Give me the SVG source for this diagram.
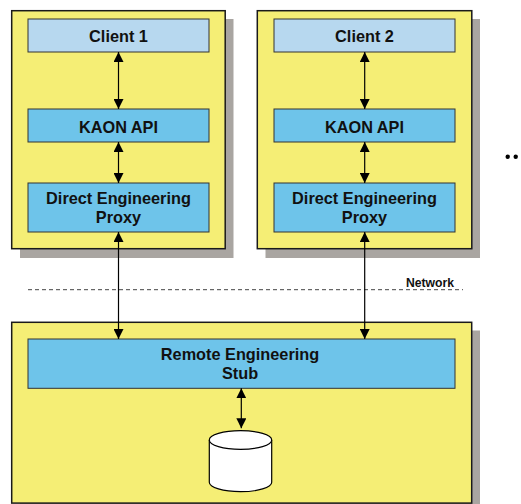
<svg xmlns="http://www.w3.org/2000/svg" width="521" height="504" viewBox="0 0 521 504">
<defs>
<style>
.shadow{fill:#a9a5a1}
.outer{fill:#f5ee75;stroke:#1a1a1a;stroke-width:1.5}
.client{fill:#b7d8ef;stroke:#333;stroke-width:1}
.comp{fill:#6ec4ea;stroke:#333;stroke-width:1}
.lbl{font-family:"Liberation Sans",Arial,sans-serif;font-weight:bold;font-size:16.3px;fill:#111;text-anchor:middle}
.conn{stroke:#000;stroke-width:1.2;fill:none}
</style>
<marker id="ah" viewBox="0 0 10 10" refX="10" refY="5" markerWidth="10" markerHeight="10" markerUnits="userSpaceOnUse" orient="auto-start-reverse">
<path d="M0,0 L10,5 L0,10 z" fill="#000"/>
</marker>
</defs>
<rect width="521" height="504" fill="#fff"/>
<g id="host1">
<rect class="shadow" x="20" y="19" width="213.5" height="239"/>
<rect class="outer" x="11.7" y="10.7" width="213.5" height="238"/>
</g>
<g id="host2">
<rect class="shadow" x="265.5" y="19" width="214.5" height="239"/>
<rect class="outer" x="257.3" y="10.7" width="214.5" height="238"/>
</g>
<g id="server">
<rect class="shadow" x="20" y="330.5" width="460" height="180"/>
<rect class="outer" x="11.7" y="322.3" width="460" height="180.8"/>
</g>
<g id="client1"><rect class="client" x="28" y="19" width="181" height="33"/><text class="lbl" x="118.5" y="42">Client 1</text></g>
<g id="kaon1"><rect class="comp" x="28" y="109" width="181" height="33"/><text class="lbl" x="118.5" y="133">KAON API</text></g>
<g id="proxy1"><rect class="comp" x="28" y="183" width="181" height="49"/><text class="lbl" x="118.5" y="204">Direct Engineering</text><text class="lbl" x="118.5" y="222.5">Proxy</text></g>
<g id="client2"><rect class="client" x="274" y="19" width="181" height="33"/><text class="lbl" x="364.5" y="42">Client 2</text></g>
<g id="kaon2"><rect class="comp" x="274" y="109" width="181" height="33"/><text class="lbl" x="364.5" y="133">KAON API</text></g>
<g id="proxy2"><rect class="comp" x="274" y="183" width="181" height="49"/><text class="lbl" x="364.5" y="204">Direct Engineering</text><text class="lbl" x="364.5" y="222.5">Proxy</text></g>
<g id="stub"><rect class="comp" x="28" y="339" width="427" height="49.3"/><text class="lbl" x="240" y="360">Remote Engineering</text><text class="lbl" x="240" y="378.5">Stub</text></g>
<g id="db">
<path d="M209.3,440 V482.3 A31.2,9.4 0 0 0 271.7,482.3 V440" fill="#fff" stroke="#000" stroke-width="1.2"/>
<ellipse cx="240.5" cy="440" rx="31.2" ry="9.3" fill="#fff" stroke="#000" stroke-width="1.2"/>
</g>
<g id="network">
<line x1="28" y1="289.7" x2="463" y2="289.7" stroke="#444" stroke-width="1" stroke-dasharray="4,3"/>
<text x="430" y="286.5" font-family="Liberation Sans,Arial,sans-serif" font-weight="bold" font-size="12.2px" fill="#111" text-anchor="middle">Network</text>
</g>
<g id="more">
<circle cx="507.7" cy="156.7" r="2.2" fill="#000"/>
<circle cx="515.7" cy="156.7" r="2.2" fill="#000"/>
</g>
<g id="connectors">
<line class="conn" x1="118.5" y1="52" x2="118.5" y2="109" marker-start="url(#ah)" marker-end="url(#ah)"/>
<line class="conn" x1="118.5" y1="142" x2="118.5" y2="183" marker-start="url(#ah)" marker-end="url(#ah)"/>
<line class="conn" x1="364.7" y1="52" x2="364.7" y2="109" marker-start="url(#ah)" marker-end="url(#ah)"/>
<line class="conn" x1="364.7" y1="142" x2="364.7" y2="183" marker-start="url(#ah)" marker-end="url(#ah)"/>
<line class="conn" x1="118.5" y1="232" x2="118.5" y2="339" marker-start="url(#ah)" marker-end="url(#ah)"/>
<line class="conn" x1="364.7" y1="232" x2="364.7" y2="339" marker-start="url(#ah)" marker-end="url(#ah)"/>
<line class="conn" x1="241.3" y1="388.3" x2="241.3" y2="428.3" marker-start="url(#ah)" marker-end="url(#ah)"/>
</g>
</svg>
